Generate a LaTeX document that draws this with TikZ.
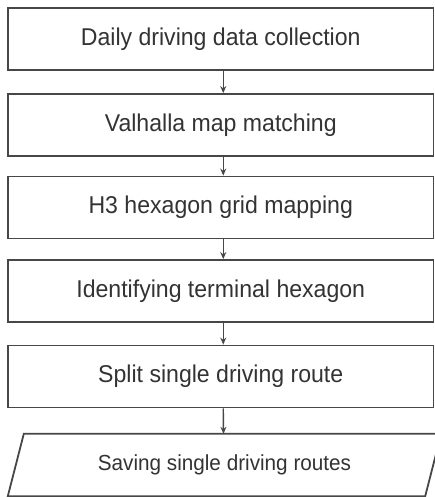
\documentclass[tikz,border=0pt]{standalone}
\usepackage{fontspec}
\setmainfont{Liberation Sans}
\newfontfamily\boxfont[FakeStretch=0.95]{Liberation Sans}
\usetikzlibrary{arrows.meta}
\definecolor{linec}{HTML}{474747}
\definecolor{textc}{HTML}{333333}
\tikzset{
  stepbox/.style={draw=linec, line width=1.8pt, fill=white, minimum width=425.5pt,
    minimum height=62pt, inner sep=0pt, text=textc, font=\boxfont\fontsize{24.3}{28}\selectfont},
  iobox/.style={draw=none, minimum width=417pt, minimum height=62pt, inner sep=0pt,
    text=textc, font=\boxfont\fontsize{21.8}{26}\selectfont},
  flow/.style={draw=linec, line width=1.4pt, -{Stealth[length=7pt,width=6pt]}}
}
\begin{document}
\begin{tikzpicture}[x=1pt,y=-1pt]
\useasboundingbox (0,0) rectangle (435,497);
\clip (0,0) rectangle (435,497);
\fill[white] (0,0) rectangle (435,497);
\node[stepbox] (b1) at (220.75,39) {Daily driving data collection};
\node[stepbox] (b2) at (220.75,125) {Valhalla map matching};
\node[stepbox] (b3) at (220.75,207.5) {H3 hexagon grid mapping};
\node[stepbox] (b4) at (220.75,291) {Identifying terminal hexagon};
\node[stepbox] (b5) at (220.75,376.5) {Split single driving route};
\node[iobox] (p) at (224.5,465) {Saving single driving routes};
\draw[linec, line width=1.8pt, line join=miter]
  ([xshift=8pt]p.north west) -- ([xshift=8pt]p.north east) --
  ([xshift=-8pt]p.south east) -- ([xshift=-8pt]p.south west) -- cycle;
\draw[flow] ([xshift=2.5pt]b1.south) -- ([xshift=2.5pt]b2.north);
\draw[flow] ([xshift=2.5pt]b2.south) -- ([xshift=2.5pt]b3.north);
\draw[flow] ([xshift=2.5pt]b3.south) -- ([xshift=2.5pt]b4.north);
\draw[flow] ([xshift=2.5pt]b4.south) -- ([xshift=2.5pt]b5.north);
\draw[flow] ([xshift=2.5pt]b5.south) -- ([xshift=-1pt]p.north);
\end{tikzpicture}
\end{document}
